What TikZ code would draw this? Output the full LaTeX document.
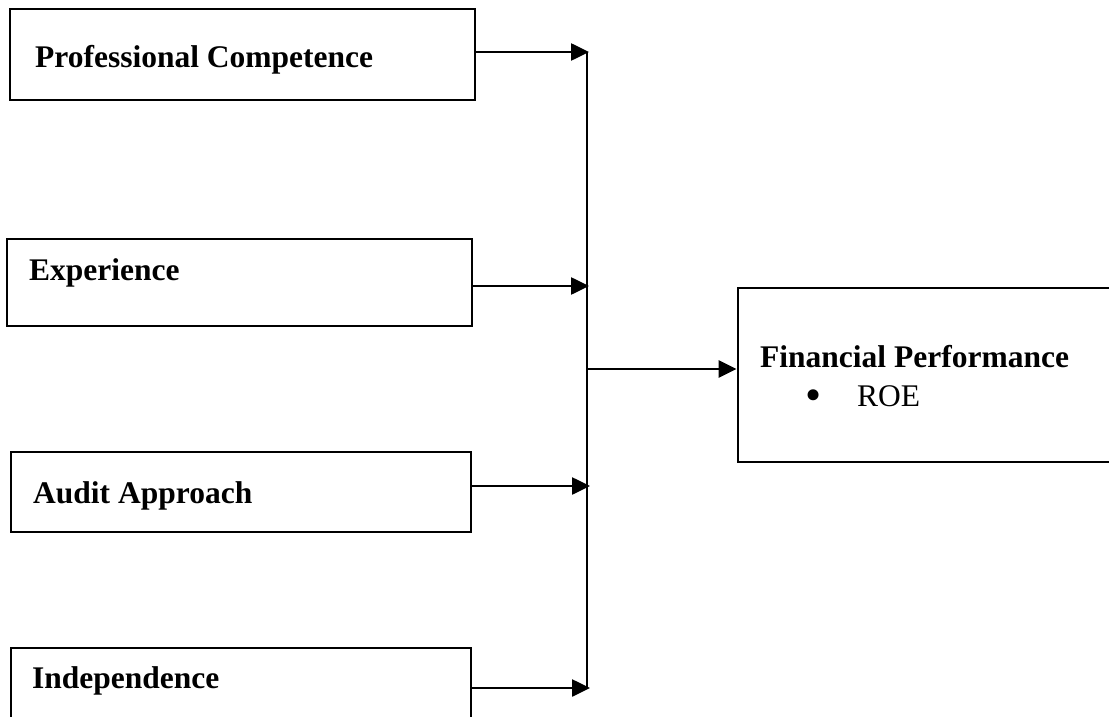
\documentclass[tikz,border=0pt]{standalone}
\usepackage{fontspec}
\setmainfont{Liberation Serif}
\usetikzlibrary{arrows.meta}
\begin{document}
\begin{tikzpicture}[x=1pt,y=-1pt,
  box/.style={draw=black, line width=2.8pt, inner sep=0pt, rectangle},
  lbl/.style={anchor=base west, inner sep=0pt, font=\fontsize{31.5}{38}\selectfont\bfseries},
  txt/.style={anchor=base west, inner sep=0pt, font=\fontsize{31.5}{38}\selectfont},
  conn/.style={line width=2.6pt, -{Triangle[length=18pt,width=17pt]}},
  bus/.style={line width=1.4pt}]
\useasboundingbox (0,0) rectangle (1109,717);
\fill[white] (0,0) rectangle (1109,717);
% boxes
\node[box, minimum width=465pt, minimum height=91pt] (b1) at (242.5,54.5) {};
\node[box, minimum width=465pt, minimum height=87pt] (b2) at (239.5,282.5) {};
\node[box, minimum width=460pt, minimum height=80pt] (b3) at (241,492) {};
\node[box, minimum width=460pt, minimum height=90pt] (b4) at (241,693) {};
\node[box, minimum width=392pt, minimum height=174pt] (fp) at (934,375) {};
% labels
\node[lbl] (t1) at (35,67) {Professional Competence};
\node[lbl] (t2) at (29,280) {Experience};
\node[lbl] (t3) at (33,503) {Audit Approach};
\node[lbl] (t4) at (32,688) {Independence};
\node[lbl] (t5) at (760,367) {Financial Performance};
\node[txt, anchor=base, font=\fontsize{46}{50}\selectfont] (bul) at (814,410) {\textbullet};
\node[txt] (roe) at (857,406) {ROE};
% bus coordinates
\coordinate (p1) at (589,52);
\coordinate (p2) at (589,286);
\coordinate (p3) at (590,486);
\coordinate (p4) at (590,688);
\coordinate (vtop) at (587,52);
\coordinate (vbot) at (587,688);
\coordinate (vmid) at (587,369);
% connectors
\draw[bus] (vtop) -- (vbot);
\draw[conn] (b1.east |- p1) -- (p1);
\draw[conn] (b2.east |- p2) -- (p2);
\draw[conn] (b3.east |- p3) -- (p3);
\draw[conn] (b4.east |- p4) -- (p4);
\draw[conn] (vmid) -- (fp.west |- vmid);
\end{tikzpicture}
\end{document}
